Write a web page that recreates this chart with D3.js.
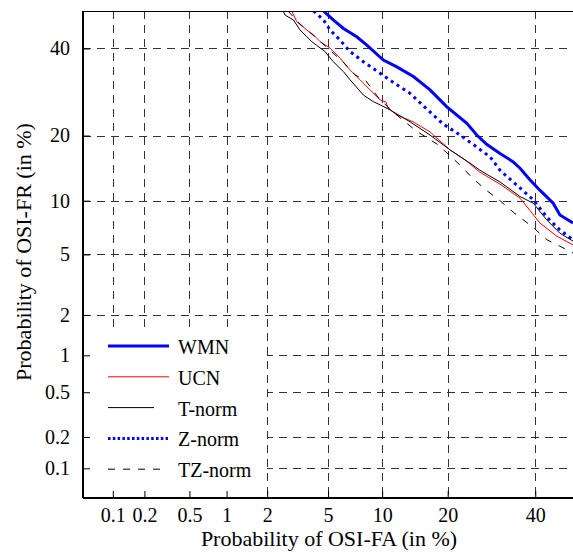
<!DOCTYPE html>
<html>
<head>
<meta charset="utf-8">
<script src="https://cdn.jsdelivr.net/npm/d3@7"></script>
<style>
  body { margin: 0; background: #fff; }
  svg text { font-family: "Liberation Serif", Tinos, "Times New Roman", Times, "Nimbus Roman", "Noto Serif", "DejaVu Serif", serif !important; }
</style>
</head>
<body>
<svg id="chart" width="573" height="557"></svg>
<script>
// tick labels (in %)
const xTicks = [0.1, 0.2, 0.5, 1, 2, 5, 10, 20, 40];
const yTicks = [0.1, 0.2, 0.5, 1, 2, 5, 10, 20, 40];

// DET curves: false alarm (%) vs false rejection (%)
const wmnFA = [4.69, 5.37, 6.16, 7.32, 8.31, 10.14, 11.84, 14.19, 16.85, 19.8, 23.8, 25.9, 28.1, 31.2, 34.4, 36.1, 38.6, 41.2, 44.7, 46.5, 50];
const wmnFR = [50, 47.6, 45.3, 43.1, 40.9, 37.0, 35.3, 32.9, 29.7, 25.9, 22.4, 20.1, 18.4, 16.8, 15.4, 14.4, 12.7, 11.3, 9.7, 8.4, 7.6];

const ucnFA = [2.95, 3.18, 3.69, 4.07, 4.47, 5.14, 5.89, 6.72, 7.64, 8.65, 9.76, 10.46, 10.71, 11.84, 14.15, 16.85, 20.45, 23.8, 26.6, 31.2, 36.1, 38.6, 41.2, 45.7, 50];
const ucnFR = [50, 47.1, 44.9, 43.6, 41.8, 40.1, 37.5, 34.5, 32.1, 29.7, 27.4, 26.9, 25.6, 24.1, 22.7, 20.7, 17.4, 15.5, 13.8, 12.1, 10.3, 8.9, 7.6, 6.4, 5.7];

const tnormFA = [2.58, 2.66, 3.02, 3.34, 3.69, 3.97, 4.79, 5.37, 6.16, 6.72, 7.96, 9.0, 9.76, 10.96, 13.69, 16.85, 20.45, 24.46, 26.6, 31.2, 36.1, 39.5, 43.0, 46.5, 50];
const tnormFR = [50, 48.9, 47.6, 44.9, 43.1, 41.8, 39.2, 36.6, 34.1, 32.1, 28.5, 27.0, 26.3, 25.2, 22.7, 20.1, 17.4, 15.2, 14.1, 12.4, 10.5, 9.7, 7.9, 6.66, 6.0];

const znormFA = [4.07, 4.69, 5.14, 5.89, 6.72, 7.96, 9.76, 11.84, 13.69, 16.3, 19.1, 22.4, 25.9, 28.9, 31.2, 34.4, 39.5, 43.0, 46.5, 50];
const znormFR = [50, 47.6, 44.9, 42.2, 39.2, 36.6, 33.7, 30.9, 28.9, 25.4, 22.3, 20.1, 17.9, 16.2, 14.1, 12.4, 10.1, 8.2, 6.95, 6.1];

const tznormFA = [2.78, 3.34, 4.23, 6.13, 7.17, 8.23, 9.76, 12.3, 14.6, 18.1, 20.45, 22.8, 24.9, 28.0, 31.2, 34.4, 39.4, 43.1, 46.5, 50];
const tznormFR = [50, 46.5, 42.8, 36.5, 33.3, 31.8, 27.4, 23.5, 20.9, 18.4, 16.4, 14.6, 13.0, 11.3, 10.0, 8.7, 7.2, 6.1, 5.6, 5.1];

const seriesNames = ["WMN", "UCN", "T-norm", "Z-norm", "TZ-norm"];

// inverse normal cdf (Acklam), used for the DET axis warp
function probit(p) {
  const a = [-3.969683028665376e+01, 2.209460984245205e+02, -2.759285104469687e+02, 1.383577518672690e+02, -3.066479806614716e+01, 2.506628277459239e+00];
  const b = [-5.447609879822406e+01, 1.615858368580409e+02, -1.556989798598866e+02, 6.680131188771972e+01, -1.328068155288572e+01];
  const c = [-7.784894002430293e-03, -3.223964580411365e-01, -2.400758277161838e+00, -2.549732539343734e+00, 4.374664141464968e+00, 2.938163982698783e+00];
  const d = [7.784695709041462e-03, 3.224671290700398e-01, 2.445134137142996e+00, 3.754408661907416e+00];
  const plow = 0.02425;
  if (p < plow) {
    const q = Math.sqrt(-2 * Math.log(p));
    return (((((c[0]*q+c[1])*q+c[2])*q+c[3])*q+c[4])*q+c[5]) / ((((d[0]*q+d[1])*q+d[2])*q+d[3])*q+1);
  }
  if (p <= 1 - plow) {
    const q = p - 0.5, r = q * q;
    return (((((a[0]*r+a[1])*r+a[2])*r+a[3])*r+a[4])*r+a[5])*q / (((((b[0]*r+b[1])*r+b[2])*r+b[3])*r+b[4])*r+1);
  }
  const q = Math.sqrt(-2 * Math.log(1 - p));
  return -(((((c[0]*q+c[1])*q+c[2])*q+c[3])*q+c[4])*q+c[5]) / ((((d[0]*q+d[1])*q+d[2])*q+d[3])*q+1);
}

// wrap a linear scale on normal deviates so d3.axis can use it with % values
function detScale(lin) {
  const s = v => lin(probit(v / 100));
  s.copy = () => s;
  s.range = () => lin.range();
  s.domain = () => lin.domain();
  return s;
}

const margin = {top: 11, right: 0, bottom: 59, left: 83};
const width = 573 - margin.left - margin.right;
const height = 557 - margin.top - margin.bottom;

const xLin = d3.scaleLinear().domain([probit(0.0005), probit(0.5)]).range([0, width]);
const yLin = d3.scaleLinear().domain([probit(0.0005), probit(0.5)]).range([height, 0]);
const x = detScale(xLin);
const y = detScale(yLin);

const svg = d3.select("#chart");
const g = svg.append("g").attr("transform", "translate(" + margin.left + "," + margin.top + ")");

g.append("clipPath").attr("id", "clip")
  .append("rect").attr("width", width).attr("height", height);

// grid
const gridDash = "8,6";
g.append("g").selectAll("line").data(xTicks).enter().append("line")
  .attr("x1", d => Math.round(x(d)) + 0.5).attr("x2", d => Math.round(x(d)) + 0.5)
  .attr("y1", 0).attr("y2", height)
  .attr("stroke", "#333").attr("stroke-width", 1).attr("stroke-dasharray", gridDash);
g.append("g").selectAll("line").data(yTicks).enter().append("line")
  .attr("y1", d => Math.round(y(d)) + 0.5).attr("y2", d => Math.round(y(d)) + 0.5)
  .attr("x1", 0).attr("x2", width)
  .attr("stroke", "#333").attr("stroke-width", 1).attr("stroke-dasharray", gridDash);

// curves
const series = [
  {fa: wmnFA, fr: wmnFR, color: "#0000ff", w: 3, dash: null, legDash: null, legLen: 61},
  {fa: ucnFA, fr: ucnFR, color: "#ff0000", w: 1, dash: null, legDash: null, legLen: 61},
  {fa: tnormFA, fr: tnormFR, color: "#000", w: 1, dash: null, legDash: null, legLen: 46},
  {fa: znormFA, fr: znormFR, color: "#0000ff", w: 3, dash: "3,4", legDash: "2.5,2.3", legLen: 60},
  {fa: tznormFA, fr: tznormFR, color: "#000", w: 1, dash: "7,8", legDash: "7,8", legLen: 55}
];

const line = d3.line().x(d => x(d[0])).y(d => y(d[1]));
const curves = g.append("g").attr("clip-path", "url(#clip)");
series.forEach(s => {
  curves.append("path")
    .datum(d3.zip(s.fa, s.fr))
    .attr("d", line)
    .attr("fill", "none")
    .attr("stroke", s.color)
    .attr("stroke-width", s.w)
    .attr("stroke-dasharray", s.dash);
});

// legend
const leg = g.append("g");
leg.append("rect")
  .attr("x", 1).attr("y", 317).attr("width", 183).attr("height", height - 318)
  .attr("fill", "#fff");
series.forEach((s, i) => {
  const ly = 335 + i * 30.8;
  leg.append("line")
    .attr("x1", 25).attr("x2", 25 + s.legLen)
    .attr("y1", ly).attr("y2", ly)
    .attr("stroke", s.color).attr("stroke-width", s.w)
    .attr("stroke-dasharray", s.legDash);
  leg.append("text")
    .attr("x", 95).attr("y", ly + 8)
    .attr("font-size", 20)
    .text(seriesNames[i]);
});

// axes
const xAxis = g.append("g")
  .attr("transform", "translate(0," + height + ")")
  .call(d3.axisBottom(x).tickValues(xTicks).tickSize(-7).tickPadding(10).tickFormat(d => String(d)));
const yAxis = g.append("g")
  .call(d3.axisLeft(y).tickValues(yTicks).tickSize(-7).tickPadding(13).tickFormat(d => String(d)));
[xAxis, yAxis].forEach(a => {
  a.select(".domain").remove();
  a.attr("font-family", null);
  a.selectAll("line").attr("stroke", "#000");
  a.selectAll("text").attr("font-size", 20).attr("fill", "#000");
});

// frame
g.append("line").attr("x1", 0).attr("x2", width).attr("y1", 0.5).attr("y2", 0.5)
  .attr("stroke", "#000").attr("stroke-width", 1);
g.append("line").attr("x1", 0).attr("x2", 0).attr("y1", 0).attr("y2", height)
  .attr("stroke", "#000").attr("stroke-width", 2);
g.append("line").attr("x1", 0).attr("x2", width).attr("y1", height).attr("y2", height)
  .attr("stroke", "#000").attr("stroke-width", 2);

// axis titles
svg.append("text")
  .attr("x", margin.left + 246).attr("y", 546)
  .attr("text-anchor", "middle").attr("font-size", 22)
  .text("Probability of OSI-FA (in %)");
svg.append("text")
  .attr("transform", "translate(31," + 252 + ")rotate(-90)")
  .attr("text-anchor", "middle").attr("font-size", 22)
  .text("Probability of OSI-FR (in %)");
</script>
</body>
</html>
